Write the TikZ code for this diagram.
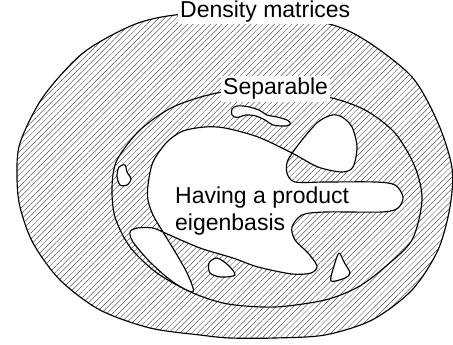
\documentclass[tikz,border=0pt]{standalone}
\usepackage{fontspec}
\setmainfont{Liberation Sans}
\usetikzlibrary{patterns.meta}
\tikzset{
  hatch/.style={pattern={Lines[angle=45,distance=4.1pt,line width=0.32pt]},pattern color=black!85},
  outline/.style={line width=1.15pt,line join=round},
  hole/.style={outline,fill=white},
  lbl/.style={font=\fontsize{23}{27}\selectfont,inner sep=0pt},
  boxlbl/.style={lbl,fill=white,inner sep=2pt}
}
\begin{document}
\begin{tikzpicture}[x=1pt,y=-1pt]
\useasboundingbox (0,0) rectangle (453,345);
% outer set: density matrices
\draw[outline,hatch] plot[smooth cycle] coordinates {
 (240,12) (325,23) (365,40) (412,77) (438,123) (452,168) (450,207) (438,250)
 (412,290) (372,320) (325,335) (275,338) (230,338) (200,335) (150,328) (100,310)
 (60,280) (33,243) (20,207) (17,177) (20,143) (43,97) (83,53) (133,25) (175,15)};
% separable set
\draw[outline] plot[smooth cycle] coordinates {
 (217,93) (270,88) (328,97) (365,110) (395,133) (415,167) (422,200) (412,240)
 (385,267) (358,287) (325,300) (275,307) (228,304) (193,293) (157,273) (130,247)
 (115,217) (112,187) (117,160) (140,130) (173,107)};
% product eigenbasis set
\draw[hole] plot[smooth cycle] coordinates {
 (148,200) (148,185) (153,162) (167,142) (183,131) (205,127) (225,128) (258,137)
 (292,153) (318,167) (342,172) (353,167) (357,147) (352,127) (342,117) (332,115)
 (318,122) (302,140) (288,160) (287,173) (295,182) (325,182) (375,182) (395,185)
 (403,197) (398,208) (382,212) (325,212) (302,215) (292,227) (295,240) (308,253)
 (317,266) (311,273) (292,274) (258,267) (233,258) (200,248) (165,233) (153,228)
 (137,228) (130,232) (133,242) (150,262) (173,282) (193,292) (188,275) (177,255)
 (163,232) (153,215)};
% small islands
\draw[hole] plot[smooth cycle] coordinates {
 (232,109) (237,106) (247,106.5) (259,110) (267,115) (277,117) (287,120) (290.5,123.5)
 (286,126) (273,125) (265,120) (256,116) (246,115) (237,117.5) (232,115)};
\draw[hole] plot[smooth cycle] coordinates {
 (119,167) (125,165) (127,172) (131,179) (127,185) (120,185) (117,176)};
\draw[hole] plot[smooth cycle] coordinates {
 (209,263) (217,258) (228,265) (235,275) (221,277) (210,273)};
\draw[hole] plot[smooth cycle] coordinates {
 (339,253) (344,262) (350,273) (345,278) (331,281) (334,266)};
% labels
\node[boxlbl,anchor=base west] (dm) at (178,17.5) {Density matrices};
\node[boxlbl,anchor=base west] (sep) at (221,95) {Separable};
\node[lbl,anchor=north west,align=left] (pe) at (175,186.5) {Having a product\\eigenbasis};
\end{tikzpicture}
\end{document}
